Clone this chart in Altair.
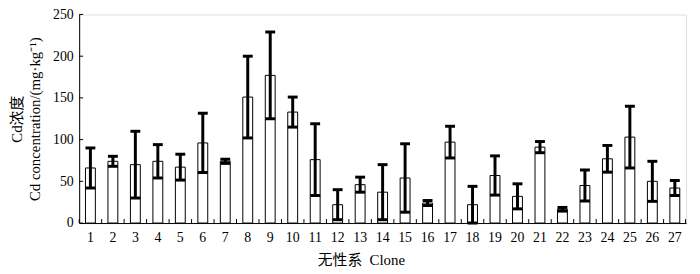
import altair as alt
import pandas as pd

clones = list(range(1, 28))
means = [66, 74, 70, 74, 67, 96, 74, 151, 177, 133, 76, 22, 46, 37, 54, 24, 97, 22, 57, 32, 91, 16.5, 45, 77, 103, 50, 42]
errs = [24, 6, 40, 20, 15.5, 35.5, 2.5, 49, 52, 18, 43, 18, 9, 33, 41, 3, 19, 22, 23.5, 15, 6.7, 2.2, 18.5, 16, 37, 24, 9]
y_ticks = [0, 50, 100, 150, 200, 250]

FONT = "Liberation Serif, Noto Sans CJK SC"
W, H = 614, 211

df = pd.DataFrame({"clone": clones, "mean": means, "err": errs})
df["lo"] = df["mean"] - df["err"]
df["hi"] = df["mean"] + df["err"]

xenc = alt.X(
    "clone:O",
    sort=clones,
    scale=alt.Scale(paddingInner=0, paddingOuter=0),
    axis=alt.Axis(
        title="无性系\u00a0\u00a0Clone",
        labelAngle=0,
        labelFont=FONT,
        labelFontSize=14,
        labelColor="black",
        labelPadding=8,
        ticks=False,
        tickSize=0,
        domainColor="black",
        domainWidth=1,
        titleFont=FONT,
        titleFontSize=15,
        titleFontWeight="normal",
        titleColor="black",
        titlePadding=8,
        titleX=285,
    ),
)
yscale = alt.Scale(domain=[0, 250], nice=False)
yaxis = alt.Axis(
    values=y_ticks,
    title=["Cd浓度", "Cd concentration/(mg·kg⁻¹)"],
    labelFont=FONT,
    labelFontSize=14,
    labelColor="black",
    labelPadding=6,
    ticks=False,
    tickSize=0,
    grid=False,
    domainColor="black",
    domainWidth=1,
    titleFont=FONT,
    titleFontSize=15,
    titleFontWeight="normal",
    titleColor="black",
    titlePadding=10,
    titleLineHeight=18,
)

base = alt.Chart(df)

bars = base.mark_bar(fill="white", stroke="black", strokeWidth=1, size=10).encode(
    x=xenc,
    y=alt.Y("mean:Q", scale=yscale, axis=yaxis),
)
err_rule = base.mark_rule(color="black", strokeWidth=3).encode(
    x=alt.X("clone:O", sort=clones),
    y=alt.Y("lo:Q"),
    y2="hi:Q",
)
cap_hi = base.mark_tick(color="black", thickness=3, size=10, opacity=1).encode(
    x=alt.X("clone:O", sort=clones),
    y=alt.Y("hi:Q"),
)
cap_lo = base.mark_tick(color="black", thickness=3, size=10, opacity=1).encode(
    x=alt.X("clone:O", sort=clones),
    y=alt.Y("lo:Q"),
)

xt = base.mark_rule(color="black", strokeWidth=1).encode(
    x=alt.X("clone:O", sort=clones, bandPosition=0),
    y=alt.value(H),
    y2=alt.value(H - 4),
)
xt_end = alt.Chart(pd.DataFrame({"a": [0]})).mark_rule(color="black", strokeWidth=1).encode(
    x=alt.value(W - 0.5),
    y=alt.value(H),
    y2=alt.value(H - 4),
)
yt = alt.Chart(pd.DataFrame({"v": y_ticks})).mark_rule(color="black", strokeWidth=1).encode(
    y=alt.Y("v:Q"),
    x=alt.value(0),
    x2=alt.value(4),
)

chart = (
    alt.layer(bars, err_rule, cap_hi, cap_lo, xt, xt_end, yt)
    .properties(
        width=W,
        height=H,
        autosize=alt.AutoSizeParams(type="none"),
        padding={"left": 72, "top": 5, "right": 6, "bottom": 50},
    )
    .configure_view(stroke=None)
    .configure(background="white")
)

chart.save("out.html", embed_options={"renderer": "svg", "actions": False})
